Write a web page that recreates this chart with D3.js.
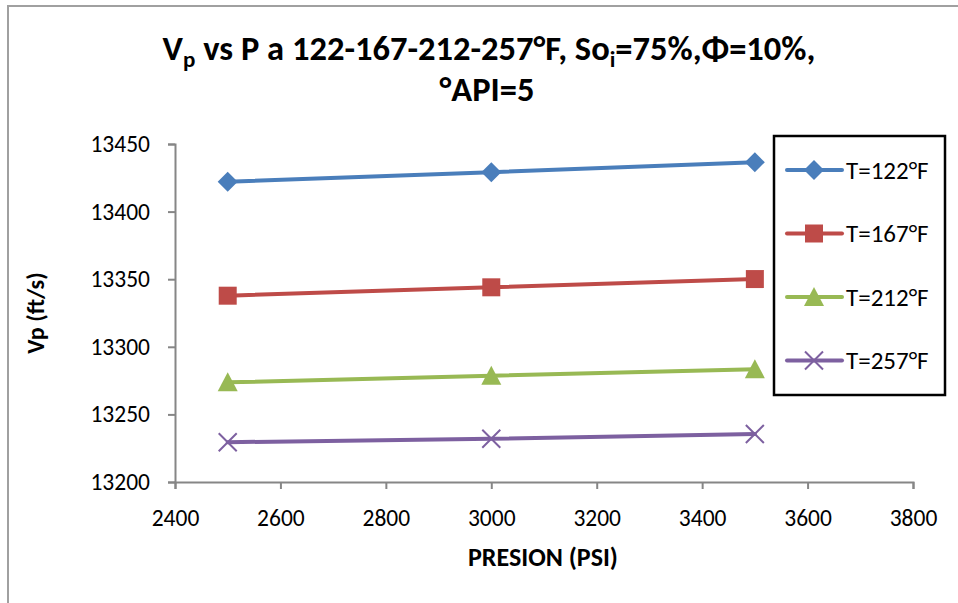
<!DOCTYPE html>
<html><head><meta charset="utf-8">
<script src="https://cdn.jsdelivr.net/npm/d3@7"></script>
<style>
html,body{margin:0;padding:0;background:#fff;}
text{font-family:Carlito,Calibri,Lato,"Liberation Sans",sans-serif;}
</style></head>
<body><svg id="c" width="958" height="603"></svg>
<script>
const pressures = [2500, 3000, 3500];
const seriesNames = ["T=122°F", "T=167°F", "T=212°F", "T=257°F"];
const vp122 = [13422.1, 13429.1, 13436.5];
const vp167 = [13337.8, 13344.0, 13350.1];
const vp212 = [13273.7, 13278.6, 13283.4];
const vp257 = [13229.4, 13232.0, 13235.5];
const xTicks = [2400, 2600, 2800, 3000, 3200, 3400, 3600, 3800];
const yTicks = [13200, 13250, 13300, 13350, 13400, 13450];

const colors = ["#4A7EBB", "#BE4B48", "#98B954", "#7D60A0"];
const shapes = ["diamond", "square", "triangle", "x"];
const series = [vp122, vp167, vp212, vp257].map((v, i) => ({name: seriesNames[i], values: v, color: colors[i], shape: shapes[i]}));

const svg = d3.select("#c");
// chart border
svg.append("rect").attr("x", 8).attr("y", 6).attr("width", 1000).attr("height", 700)
  .attr("fill", "#fff").attr("stroke", "#a0a0a0").attr("stroke-width", 2);

const x = d3.scaleLinear().domain([2400, 3800]).range([175, 913]);
const y = d3.scaleLinear().domain([13200, 13450]).range([482, 144]);

const axisColor = "#868686";
const xAxis = svg.append("g").attr("transform", `translate(0,${y(13200)})`)
  .call(d3.axisBottom(x).tickValues(xTicks).tickFormat(d3.format("d")).tickSizeOuter(0).tickSize(7).tickPadding(20));
const yAxis = svg.append("g").attr("transform", `translate(${x(2400)},0)`)
  .call(d3.axisLeft(y).tickValues(yTicks).tickFormat(d3.format("d")).tickSizeOuter(0).tickSize(7).tickPadding(18));
[xAxis, yAxis].forEach(g => {
  g.select(".domain").attr("stroke", axisColor).attr("stroke-width", 2);
  g.selectAll(".tick line").attr("stroke", axisColor).attr("stroke-width", 2);
  g.selectAll(".tick text").attr("fill", "#000").style("font-size", "23.5px")
   .style("font-family", 'Carlito,Calibri,Lato,"Liberation Sans",sans-serif');
});

function symbolPath(shape) {
  if (shape === "diamond") return "M0,-10L10,0L0,10L-10,0Z";
  if (shape === "square") return "M-9,-9H9V9H-9Z";
  if (shape === "triangle") return "M0,-10L10,9H-10Z";
  return "M-9,-9L9,9M-9,9L9,-9";
}
function drawMarker(g, s, cx, cy) {
  const p = g.append("path").attr("d", symbolPath(s.shape)).attr("transform", `translate(${cx},${cy})`);
  if (s.shape === "x") p.attr("fill", "none").attr("stroke", s.color).attr("stroke-width", 2);
  else p.attr("fill", s.color);
}

const line = d3.line().x((d, i) => x(pressures[i])).y(d => y(d));
series.forEach(s => {
  const g = svg.append("g");
  g.append("path").attr("d", line(s.values)).attr("fill", "none")
    .attr("stroke", s.color).attr("stroke-width", 4).attr("stroke-linecap", "round");
  s.values.forEach((v, i) => drawMarker(g, s, x(pressures[i]), y(v)));
});

// Title
const title = svg.append("text").attr("text-anchor", "middle").attr("font-weight", "bold").style("font-size", "34.5px");
const t1 = title.append("tspan").attr("x", 489).attr("y", 60);
t1.append("tspan").text("V");
t1.append("tspan").text("p").attr("dy", 7).style("font-size", "23px");
t1.append("tspan").text(" vs P a 122-167-212-257°F, So").attr("dy", -7);
t1.append("tspan").text("i").attr("dy", 7).style("font-size", "23px");
t1.append("tspan").text("=75%,Φ=10%,").attr("dy", -7);
title.append("tspan").attr("x", 487).attr("y", 101).text("°API=5");

// axis titles
svg.append("text").attr("x", 543).attr("y", 566).attr("text-anchor", "middle")
  .attr("font-weight", "bold").style("font-size", "26px").text("PRESION (PSI)");
svg.append("text").attr("transform", "translate(44,313) rotate(-90)").attr("text-anchor", "middle")
  .attr("font-weight", "bold").style("font-size", "24px").text("Vp (ft/s)");

// legend
const lg = svg.append("g");
lg.append("rect").attr("x", 774).attr("y", 136).attr("width", 171).attr("height", 259)
  .attr("fill", "#fff").attr("stroke", "#000").attr("stroke-width", 2.5);
series.forEach((s, i) => {
  const cy = 170 + i * 63.5;
  lg.append("line").attr("x1", 787).attr("x2", 842).attr("y1", cy).attr("y2", cy)
    .attr("stroke", s.color).attr("stroke-width", 4).attr("stroke-linecap", "round");
  drawMarker(lg, s, 814, cy);
  lg.append("text").attr("x", 846).attr("y", cy + 8.5).style("font-size", "25px").text(s.name);
});
</script></body></html>
